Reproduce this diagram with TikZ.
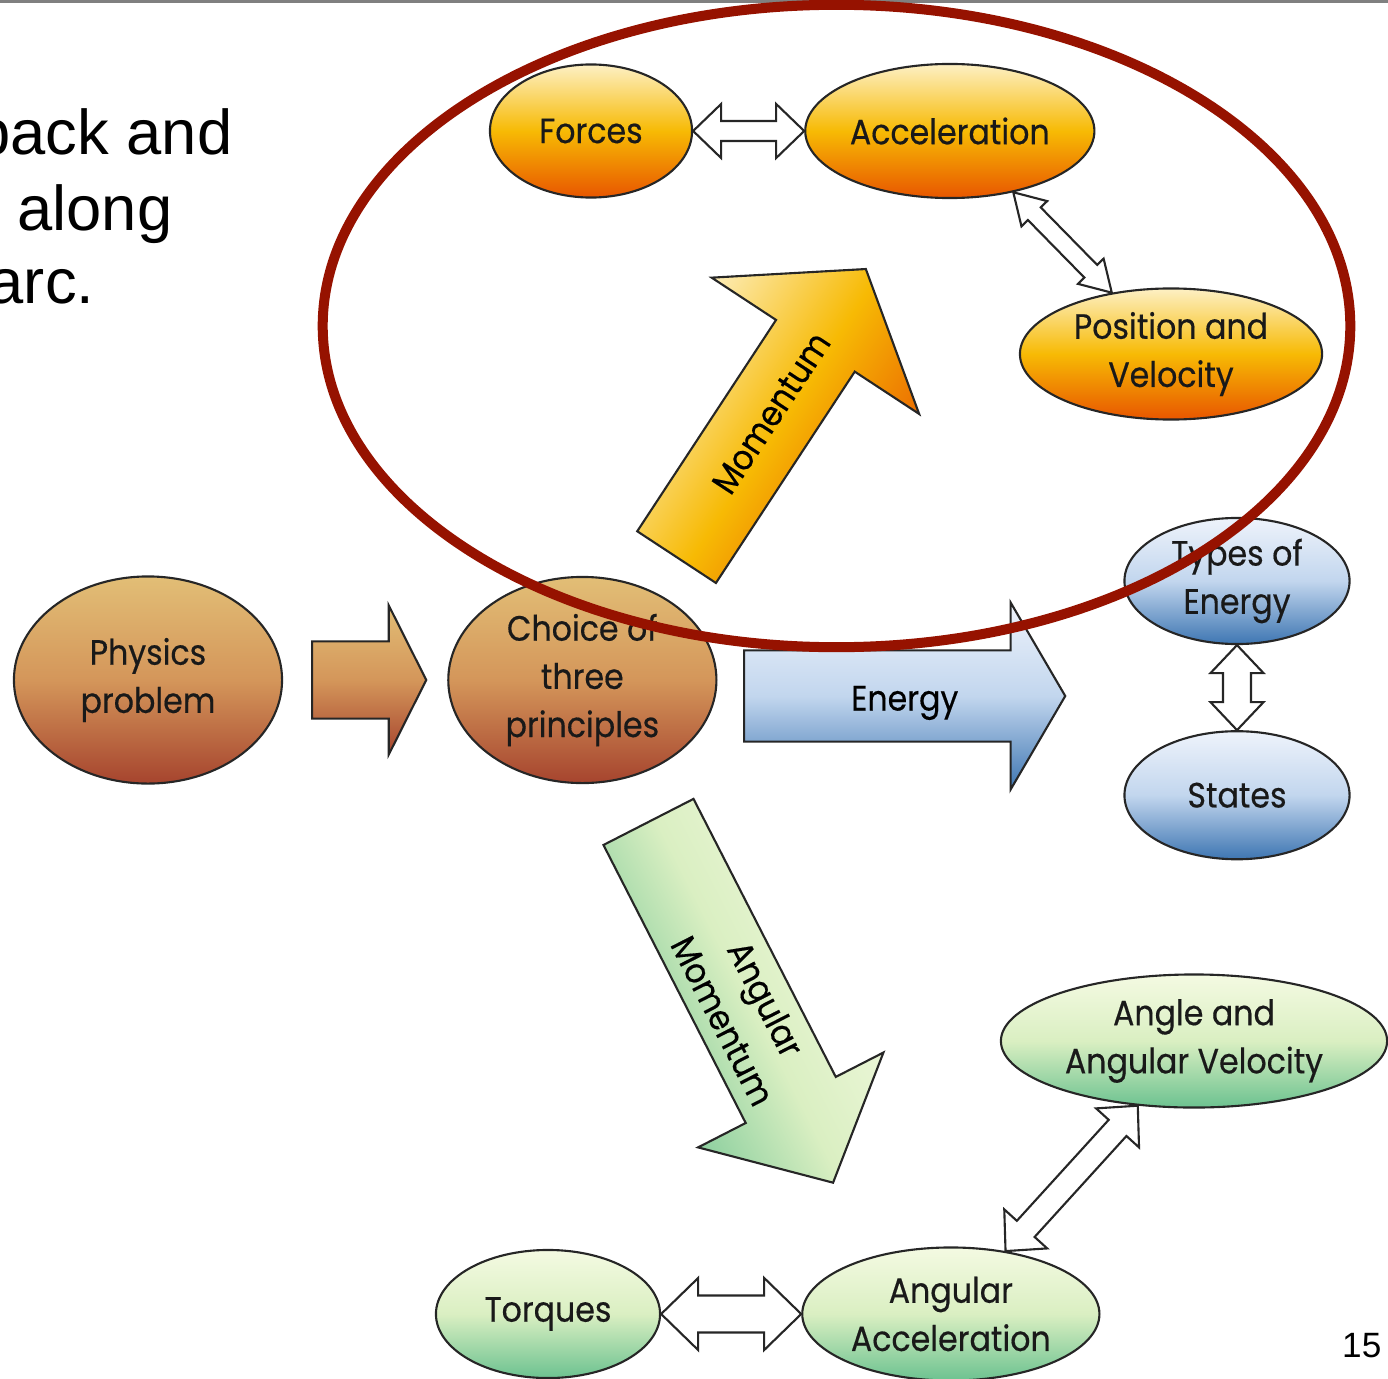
\documentclass[tikz,border=0pt]{standalone}
\usepackage{fontspec}
\setmainfont{Liberation Sans}
\newfontfamily\diagfont[FakeStretch=0.9,FakeBold=0.4]{Poppins}
\usepackage{tikz}
\usetikzlibrary{arrows.meta,positioning,shapes.geometric,shapes.arrows,calc}
\usepackage{xcolor}
\definecolor{hotTop}{RGB}{253,240,196}
\definecolor{hotMid}{RGB}{247,186,4}
\definecolor{hotBot}{RGB}{232,86,0}
\definecolor{tanTop}{RGB}{226,190,118}
\definecolor{tanMid}{RGB}{212,150,90}
\definecolor{tanBot}{RGB}{166,68,46}
\definecolor{skyTop}{RGB}{238,243,251}
\definecolor{skyMid}{RGB}{194,214,238}
\definecolor{skyBot}{RGB}{62,118,178}
\definecolor{leafTop}{RGB}{244,250,226}
\definecolor{leafMid}{RGB}{218,239,194}
\definecolor{leafBot}{RGB}{108,194,144}
\definecolor{ringRed}{RGB}{150,18,0}

% two-headed hollow arrow between two anchors: head length, head half width, shaft half width
\newcommand{\twoway}[5]{%
  \draw[dbl] (#1)
    -- ($(#1)!#3!(#2)!#4!90:(#2)$) -- ($(#1)!#3!(#2)!#5!90:(#2)$)
    -- ($(#2)!#3!(#1)!#5!-90:(#1)$) -- ($(#2)!#3!(#1)!#4!-90:(#1)$)
    -- (#2)
    -- ($(#2)!#3!(#1)!#4!90:(#1)$) -- ($(#2)!#3!(#1)!#5!90:(#1)$)
    -- ($(#1)!#3!(#2)!#5!-90:(#2)$) -- ($(#1)!#3!(#2)!#4!-90:(#2)$)
    -- cycle;}

\begin{document}
\begin{tikzpicture}[
  x=0.01cm, y=-0.01cm,
  font=\diagfont\fontsize{10}{13.7}\selectfont,
  bubble/.style={ellipse, draw=black!85, line width=0.6pt, inner sep=0pt, align=center, text=black!90},
  hotshade/.style={top color=hotTop, bottom color=hotBot, middle color=hotMid},
  tanshade/.style={top color=tanTop, bottom color=tanBot, middle color=tanMid},
  skyshade/.style={top color=skyTop, bottom color=skyBot, middle color=skyMid},
  leafshade/.style={top color=leafTop, bottom color=leafBot, middle color=leafMid},
  hotbub/.style={bubble, hotshade},
  tanbub/.style={bubble, tanshade},
  skybub/.style={bubble, skyshade},
  leafbub/.style={bubble, leafshade},
  blockarr/.style={single arrow, draw=black!85, line width=0.6pt, inner sep=0pt, anchor=tail},
  dbl/.style={draw=black!85, line width=0.6pt, fill=white, line join=miter},
  slidetext/.style={anchor=base east, inner sep=0pt, font=\rmfamily\fontsize{18}{21}\selectfont}
]
\useasboundingbox (0,0) rectangle (1388,1379);
\draw[gray, line width=1.2pt] (0,1) -- (1388,1);

% slide text
\node[slidetext] (l1) at (233,155) {back and};
\node[slidetext] (l2) at (173,230) {along};
\node[slidetext] (l3) at (95,303) {arc.};
\node[anchor=base east, inner sep=0pt, font=\rmfamily\fontsize{10}{12}\selectfont] (pnum) at (1382,1357) {15};

% linear motion
\node[hotbub, minimum width=2.02cm, minimum height=1.33cm] (forces) at (591,131) {Forces};
\node[hotbub, minimum width=2.89cm, minimum height=1.34cm, right=1.11cm of forces] (accel) {Acceleration};
\node[hotbub, minimum width=3.02cm, minimum height=1.31cm] (posvel) at (1171,354) {Position and\\Velocity};

% start
\node[tanbub, minimum width=2.68cm, minimum height=2.07cm] (physics) at (148,680) {Physics\\problem};
\node[tanbub, minimum width=2.68cm, minimum height=2.06cm, right=1.64cm of physics] (choice) {Choice of\\three\\principles};

% energy
\node[skybub, minimum width=2.25cm, minimum height=1.26cm] (types) at (1237,581) {Types of\\Energy};
\node[skybub, minimum width=2.25cm, minimum height=1.28cm, below=0.85cm of types] (states) {States};

% rotation
\node[leafbub, minimum width=3.86cm, minimum height=1.33cm] (anglevel) at (1194,1041) {Angle and\\Angular Velocity};
\node[leafbub, minimum width=2.24cm, minimum height=1.28cm] (torques) at (548,1314) {Torques};
\node[leafbub, minimum width=2.97cm, minimum height=1.33cm, right=1.40cm of torques] (angacc) {Angular\\Acceleration};

% block arrows
\node[blockarr, tanshade, minimum height=1.14cm, minimum width=1.47cm, single arrow head extend=0.36cm,
      single arrow tip angle=126.6, text height=0.375cm, text depth=0.375cm] (steparr) at ($(physics.east)+(28,0)$) {};
\node[blockarr, skyshade, minimum height=3.21cm, minimum width=1.85cm, single arrow head extend=0.48cm,
      single arrow tip angle=119.4, text height=0.445cm, text depth=0.445cm] (enarr) at (743,696) {};
\node[blockarr, hotshade, shading angle=56.7, rotate=56.7, minimum height=3.445cm, minimum width=2.46cm,
      single arrow head extend=0.77cm, single arrow tip angle=107, text height=0.46cm, text depth=0.46cm] (momarr) at (676,558) {};
\node[blockarr, leafshade, shading angle=-62.9, rotate=-62.9, minimum height=4.05cm, minimum width=2.06cm,
      single arrow head extend=0.535cm, single arrow tip angle=96.5, text height=0.495cm, text depth=0.495cm] (angarr) at (648,821) {};

\node at ($(enarr.tail)!0.5!(enarr.tip)+(0,7)$) {Energy};
\node[rotate=56.7] at ($(momarr.tail)!0.5!(momarr.tip)$) {Momentum};
\node[rotate=-62.9, align=center] at ($(angarr.tail)!0.52!(angarr.tip)$) {Angular\\Momentum};

% two-way links
\twoway{forces.east}{accel.west}{0.28cm}{0.27cm}{0.10cm}
\twoway{accel.-44}{posvel.134}{0.30cm}{0.18cm}{0.09cm}
\twoway{types.south}{states.north}{0.28cm}{0.265cm}{0.14cm}
\twoway{torques.east}{angacc.west}{0.37cm}{0.36cm}{0.185cm}
\twoway{angacc.49}{anglevel.229}{0.30cm}{0.29cm}{0.12cm}

% highlight ring
\draw[ringRed, line width=0.1cm] (836.5,326) ellipse [x radius=5.135cm, y radius=3.21cm];
\end{tikzpicture}
\end{document}
